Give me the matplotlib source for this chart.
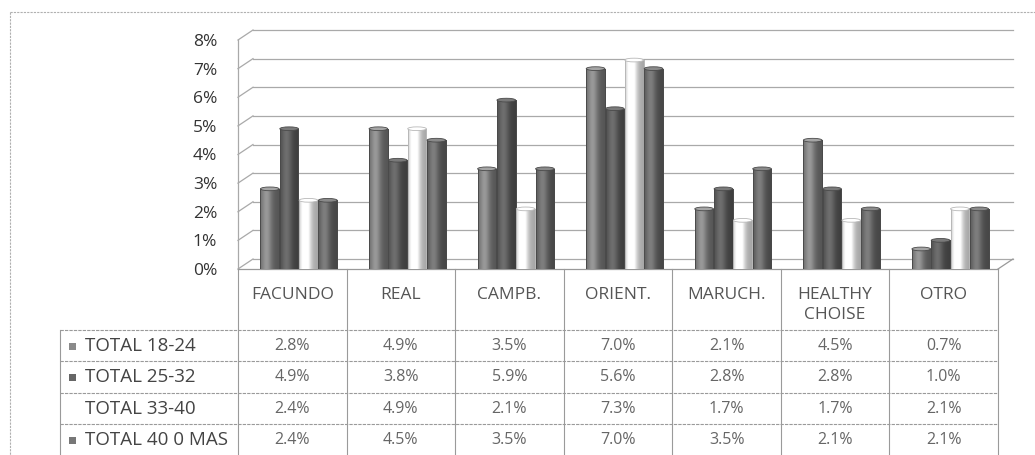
import numpy as np
import matplotlib
matplotlib.use("Agg")
import matplotlib.pyplot as plt
from matplotlib.patches import Rectangle, Ellipse
from matplotlib.transforms import ScaledTranslation
from matplotlib.colors import to_rgb

# ---------------- data ----------------
categories = ["FACUNDO", "REAL", "CAMPB.", "ORIENT.", "MARUCH.", "HEALTHY\nCHOISE", "OTRO"]
series_names = ["TOTAL 18-24", "TOTAL 25-32", "TOTAL 33-40", "TOTAL 40 0 MAS"]
total_18_24 = [2.8, 4.9, 3.5, 7.0, 2.1, 4.5, 0.7]
total_25_32 = [4.9, 3.8, 5.9, 5.6, 2.8, 2.8, 1.0]
total_33_40 = [2.4, 4.9, 2.1, 7.3, 1.7, 1.7, 2.1]
total_40_mas = [2.4, 4.5, 3.5, 7.0, 3.5, 2.1, 2.1]
series_values = [total_18_24, total_25_32, total_33_40, total_40_mas]
y_ticks = [0, 1, 2, 3, 4, 5, 6, 7, 8]

# ---------------- style ----------------
plt.rcParams['font.family'] = ['Open Sans', 'DejaVu Sans']
W, H, DPI = 1035, 455, 100
series_colors = ['#8a8a8a', '#646464', '#f3f3f3', '#727272']
key_colors = ['#8a8a8a', '#666666', None, '#777777']
grid_col = '#a9a9a9'
text_col = '#555555'

fig = plt.figure(figsize=(W / DPI, H / DPI), dpi=DPI)
fig.patch.set_facecolor('white')

# pixel layout
x_left, x_right = 238, 998
y0_px, y8_px = 269, 40
depth_dx, depth_dy = 15, 10

ax = fig.add_axes([x_left / W, (H - y0_px) / H, (x_right - x_left) / W, (y0_px - y8_px) / H])
ax.set_facecolor('none')
for s in ax.spines.values():
    s.set_visible(False)

n_cat = len(categories)
xs = np.arange(n_cat)
ax.set_xlim(-0.5, n_cat - 0.5)
ax.set_ylim(0, 8)

# back wall gridlines (shifted for 3D depth)
shift = ax.transData + ScaledTranslation(depth_dx / DPI, depth_dy / DPI, fig.dpi_scale_trans)
for k in y_ticks:
    ax.plot([-0.5, n_cat - 0.5], [k, k], color=grid_col, lw=0.9, transform=shift, zorder=1, clip_on=False)

# left wall: diagonals and front edge
inv = ax.transData.inverted()
for k in y_ticks:
    p0 = ax.transData.transform((-0.5, k))
    a, b = inv.transform(p0), inv.transform(p0 + np.array([depth_dx, depth_dy]))
    ax.plot([a[0], b[0]], [a[1], b[1]], color=grid_col, lw=0.9, zorder=1, clip_on=False)
ax.plot([-0.5, -0.5], [0, 8], color=grid_col, lw=0.9, zorder=1, clip_on=False)
# floor front edge and right diagonal
ax.plot([-0.5, n_cat - 0.5], [0, 0], color='#999999', lw=0.9, zorder=1, clip_on=False)
p0 = ax.transData.transform((n_cat - 0.5, 0))
b = inv.transform(p0 + np.array([depth_dx, depth_dy]))
ax.plot([n_cat - 0.5, b[0]], [0, b[1]], color='#999999', lw=0.9, zorder=1, clip_on=False)

# cylinder bars
bw = 0.172
step = 0.178
center_shift = 0.06
shade = np.linspace(0, 1, 64)
profile = 0.72 + 0.42 * np.exp(-((shade - 0.35) / 0.28) ** 2) - 0.1 * shade

for si, vals in enumerate(series_values):
    base = np.array(to_rgb(series_colors[si]))
    grad = np.clip(base[None, :] * profile[:, None] + (0.06 if si == 2 else 0), 0, 1)
    img = grad[None, :, :]
    offs = (si - 1.5) * step + center_shift
    edge = '#4a4a4a' if si != 2 else '#b8b8b8'
    bars = ax.bar(xs + offs, vals, width=bw, color=series_colors[si],
                  edgecolor=edge, lw=0.7, zorder=3)
    for rect, v in zip(bars, vals):
        x0 = rect.get_x()
        im = ax.imshow(img, extent=(x0, x0 + bw, 0, v), aspect='auto', zorder=3.1,
                       interpolation='bilinear')
        im.set_clip_path(rect)
        ax.add_patch(Rectangle((x0, 0), bw, v, fill=False, edgecolor=edge, lw=0.7, zorder=3.2))
        cap_col = np.clip(base * 1.12 + 0.04, 0, 1)
        ax.add_patch(Ellipse((x0 + bw / 2, v), bw, 0.13, facecolor=cap_col,
                             edgecolor=edge, lw=0.6, zorder=3.3))

ax.set_xlim(-0.5, n_cat - 0.5)
ax.set_ylim(0, 8)
ax.set_xticks([])
ax.set_yticks(y_ticks)
ax.set_yticklabels([f"{k}%" for k in y_ticks], fontsize=12.5, color='#333333')
ax.tick_params(axis='y', length=0, pad=15)

# ---------------- overlay: table & frame ----------------
ov = fig.add_axes([0, 0, 1, 1])
ov.set_xlim(0, W)
ov.set_ylim(H, 0)
ov.axis('off')
ov.set_facecolor('none')

# outer chart frame
ov.plot([10, 10], [12, H], color='#b0b0b0', lw=0.8, ls=(0, (2, 1)))
ov.plot([10, W], [12, 12], color='#b0b0b0', lw=0.8, ls=(0, (2, 1)))

col_w = (x_right - x_left) / n_cat
row_lines = [330, 361, 393, 424]
row_centers = [346, 377, 409, 440]
tbl_left = 60
line_col = '#9a9a9a'

for i in range(n_cat + 1):
    xx = x_left + i * col_w
    ov.plot([xx, xx], [y0_px, H], color=line_col, lw=0.8)
ov.plot([tbl_left, tbl_left], [row_lines[0], H], color=line_col, lw=0.8)
for yy in row_lines:
    ov.plot([tbl_left, x_right], [yy, yy], color=line_col, lw=0.8, ls=(0, (3, 1)))

for i, c in enumerate(categories):
    ov.text(x_left + (i + 0.5) * col_w, 287, c, ha='center', va='top', fontsize=12.5,
            color=text_col, linespacing=1.3)

for r, (name, vals) in enumerate(zip(series_names, series_values)):
    yc = row_centers[r]
    if key_colors[r] is not None:
        ov.add_patch(Rectangle((69, yc - 3.5), 7, 7, facecolor=key_colors[r], edgecolor='none'))
    ov.text(85, yc, name, ha='left', va='center', fontsize=13.5, color='#444444')
    for i, v in enumerate(vals):
        ov.text(x_left + (i + 0.5) * col_w, yc, f"{v:.1f}%", ha='center', va='center',
                fontsize=11.5, color='#666666')

fig.savefig("out.png", dpi=DPI, facecolor='white')
